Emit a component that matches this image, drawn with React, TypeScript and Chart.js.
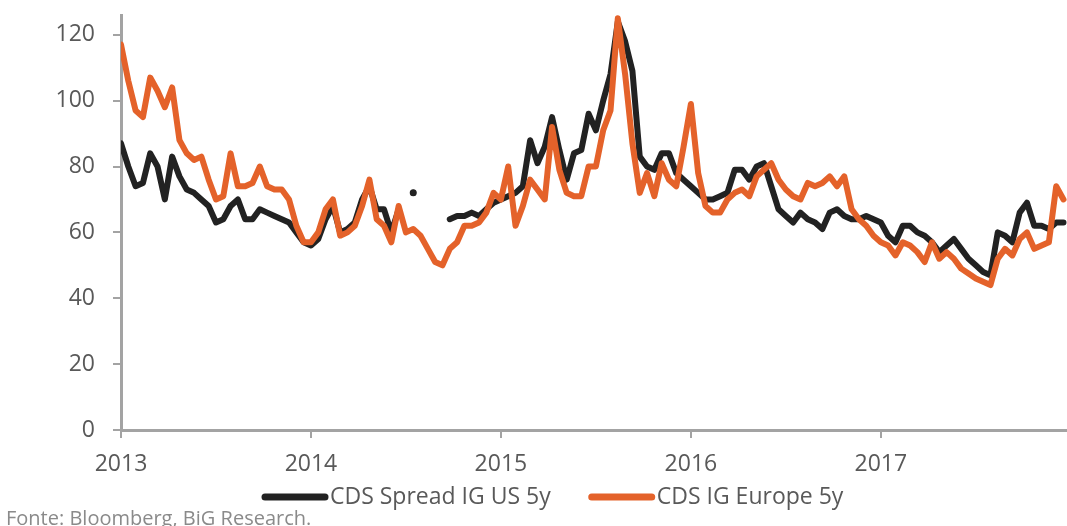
import React, { useEffect, useRef } from "react";
import { Chart, registerables } from "chart.js";

Chart.register(...registerables);

// Sampling: one reading every two weeks, starting January 2013
const startYear = 2013;
const samplesPerYear = 26;
const yearTicks = [2013, 2014, 2015, 2016, 2017];
const yTicks = [0, 20, 40, 60, 80, 100, 120];

const seriesNames = ["CDS Spread IG US 5y", "CDS IG Europe 5y"];
const sourceNote = "Fonte: Bloomberg, BiG Research.";

// CDS Spread IG US 5y (bp); null = no quote published
const usSpread: (number | null)[] = [
  87, 80, 74, 75, 84, 80, 70, 83, 77, 73, 72, 70, 68, 63, 64, 68, 70, 64, 64, 67,
  66, 65, 64, 63, 60, 57, 56, 58, 64, 68, 60, 61, 63, 70, 74, 67, 67, 60, 67, null,
  72, null, null, null, null, 64, 65, 65, 66, 65, 67, 69, 70, 71, 72, 74, 88, 81, 86, 95,
  85, 76, 84, 85, 96, 91, 100, 108, 124, 118, 109, 83, 80, 79, 84, 84, 78, 76, 74, 72,
  70, 70, 71, 72, 79, 79, 76, 80, 81, 74, 67, 65, 63, 66, 64, 63, 61, 66, 67, 65,
  64, 64, 65, 64, 63, 59, 57, 62, 62, 60, 59, 57, 54, 56, 58, 55, 52, 50, 48, 47,
  60, 59, 57, 66, 69, 62, 62, 61, 63, 63,
];

// CDS IG Europe 5y (bp)
const europeSpread: number[] = [
  117, 106, 97, 95, 107, 103, 98, 104, 88, 84, 82, 83, 76, 70, 71, 84, 74, 74, 75, 80,
  74, 73, 73, 70, 62, 57, 57, 60, 67, 70, 59, 60, 62, 68, 76, 64, 62, 57, 68, 60,
  61, 59, 55, 51, 50, 55, 57, 62, 62, 63, 66, 72, 70, 80, 62, 68, 76, 73, 70, 92,
  79, 72, 71, 71, 80, 80, 91, 97, 125, 108, 87, 72, 78, 71, 81, 76, 74, 86, 99, 78,
  68, 66, 66, 70, 72, 73, 71, 77, 79, 81, 76, 73, 71, 70, 75, 74, 75, 77, 74, 77,
  67, 64, 62, 59, 57, 56, 53, 57, 56, 54, 51, 57, 52, 54, 52, 49, 47.5, 46, 45, 44,
  52, 55, 53, 58, 60, 55, 56, 57, 74, 70,
];

const seriesColors = ["#222222", "#e4622a"];
const axisColor = "#a3a3a3";
const textColor = "#595959";
const fontFamily = "'Open Sans', sans-serif";

const toPoints = (values: (number | null)[]) =>
  values.map((v, i) => ({ x: startYear + i / samplesPerYear, y: v }));

// A lone quote between two gaps is shown as a dot
const isolatedRadius = (ctx: any) => {
  const d = ctx.dataset.data as { y: number | null }[];
  const i = ctx.dataIndex;
  if (d[i] == null || d[i].y == null) return 0;
  const prev = i > 0 ? d[i - 1].y : null;
  const next = i < d.length - 1 ? d[i + 1].y : null;
  return prev == null && next == null ? 3.5 : 0;
};

// Bottom legend with thick line samples, plus the source note
const legendAndSource = {
  id: "legendAndSource",
  afterDraw(chart: any) {
    const ctx = chart.ctx as CanvasRenderingContext2D;
    ctx.save();
    ctx.font = `23px ${fontFamily}`;
    ctx.textBaseline = "alphabetic";
    let x = 262;
    const lineY = 497;
    const textY = 504;
    seriesNames.forEach((name, i) => {
      ctx.strokeStyle = seriesColors[i];
      ctx.lineWidth = 7;
      ctx.lineCap = "round";
      ctx.beginPath();
      ctx.moveTo(x + 3, lineY);
      ctx.lineTo(x + 63, lineY);
      ctx.stroke();
      ctx.fillStyle = textColor;
      ctx.fillText(name, x + 68, textY);
      x += 68 + ctx.measureText(name).width + 38;
    });
    ctx.font = `20px ${fontFamily}`;
    ctx.fillStyle = "#8a8a8a";
    ctx.fillText(sourceNote, 6, 525);
    ctx.restore();
  },
};

export default function App() {
  const canvasRef = useRef<HTMLCanvasElement | null>(null);

  useEffect(() => {
    if (!canvasRef.current) return;
    const chart = new Chart(canvasRef.current, {
      type: "line",
      data: {
        datasets: [
          {
            label: seriesNames[0],
            data: toPoints(usSpread),
            borderColor: seriesColors[0],
            backgroundColor: seriesColors[0],
            pointBackgroundColor: seriesColors[0],
            borderWidth: 6,
            borderJoinStyle: "round",
            borderCapStyle: "round",
            pointRadius: isolatedRadius,
            pointBorderWidth: 0,
            spanGaps: false,
            tension: 0,
            order: 1,
          },
          {
            label: seriesNames[1],
            data: toPoints(europeSpread),
            borderColor: seriesColors[1],
            backgroundColor: seriesColors[1],
            borderWidth: 6,
            borderJoinStyle: "round",
            borderCapStyle: "round",
            pointRadius: 0,
            tension: 0,
            order: 0,
          },
        ],
      },
      options: {
        animation: false,
        responsive: false,
        layout: { padding: { top: 15, right: 0, bottom: 46, left: 0 } },
        plugins: {
          legend: { display: false },
          tooltip: { enabled: false },
        },
        scales: {
          x: {
            type: "linear",
            min: yearTicks[0],
            max: 2017.98,
            afterFit: (scale: any) => {
              scale.height = 50;
              scale.paddingLeft = 0;
              scale.paddingRight = 0;
            },
            afterBuildTicks: (scale: any) => {
              scale.ticks = yearTicks.map((v) => ({ value: v }));
            },
            ticks: {
              callback: (v: any) => String(Math.round(Number(v))),
              font: { family: fontFamily, size: 23 },
              color: textColor,
              padding: 13,
              maxRotation: 0,
              autoSkip: false,
            },
            grid: {
              drawOnChartArea: false,
              drawTicks: true,
              tickLength: 8,
              color: axisColor,
              lineWidth: 2,
            },
            border: { display: true, color: axisColor, width: 3 },
          },
          y: {
            type: "linear",
            min: 0,
            max: 126,
            afterFit: (scale: any) => {
              scale.width = 121;
              scale.paddingTop = 0;
              scale.paddingBottom = 0;
            },
            afterBuildTicks: (scale: any) => {
              scale.ticks = yTicks.map((v) => ({ value: v }));
            },
            ticks: {
              font: { family: fontFamily, size: 23 },
              color: textColor,
              padding: 18,
            },
            grid: {
              drawOnChartArea: false,
              drawTicks: true,
              tickLength: 8,
              color: axisColor,
              lineWidth: 2,
            },
            border: { display: true, color: axisColor, width: 3 },
          },
        },
      },
      plugins: [legendAndSource],
    });
    return () => chart.destroy();
  }, []);

  return (
    <div
      style={{
        position: "fixed",
        left: 0,
        top: 0,
        width: 1067,
        height: 526,
        background: "#ffffff",
      }}
    >
      <canvas ref={canvasRef} width={1067} height={526} style={{ display: "block" }} />
    </div>
  );
}
